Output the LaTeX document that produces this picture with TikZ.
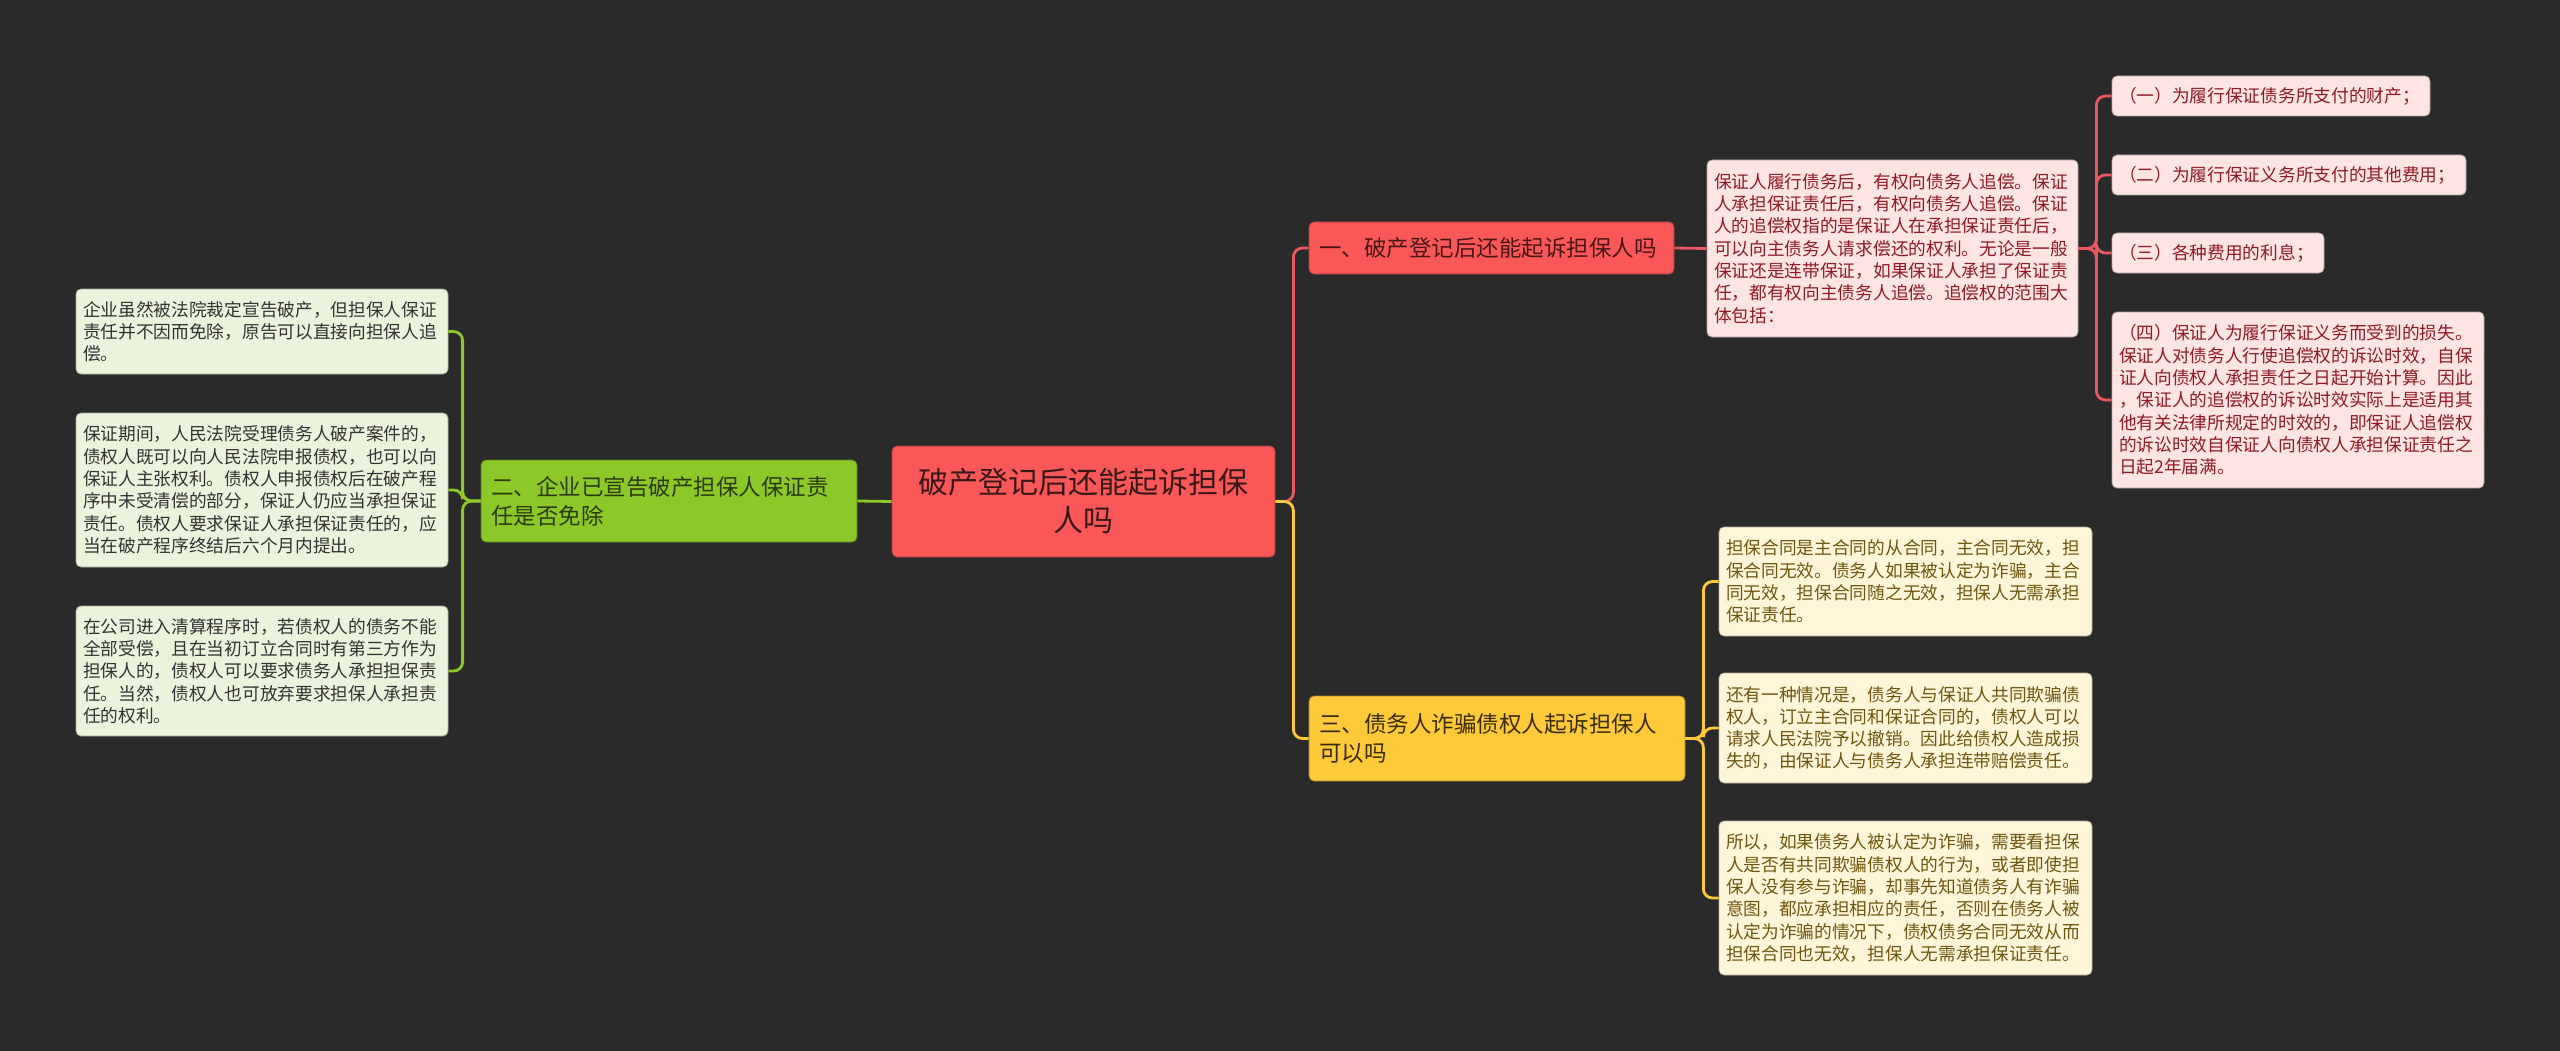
\documentclass[tikz,border=0pt]{standalone}
\usepackage{fontspec}
\setmainfont{Noto Sans CJK SC}
\usepackage{tikz}
\usetikzlibrary{positioning}
\definecolor{bgc}{HTML}{2A2A2A}
\definecolor{rootR}{HTML}{FA5858}
\definecolor{rootT}{HTML}{3A1818}
\definecolor{brRT}{HTML}{4A1515}
\definecolor{leafP}{HTML}{FFE4E4}
\definecolor{leafPT}{HTML}{8E1B24}
\definecolor{brG}{HTML}{8CC827}
\definecolor{brGT}{HTML}{2B3A0F}
\definecolor{leafG}{HTML}{EAF4DC}
\definecolor{leafGT}{HTML}{333333}
\definecolor{brY}{HTML}{FFCA3A}
\definecolor{brYT}{HTML}{3A2C00}
\definecolor{leafY}{HTML}{FFF6DA}
\definecolor{leafYT}{HTML}{6F560E}
\definecolor{lineR}{HTML}{E8585E}

\begin{document}
\begin{tikzpicture}[x=1pt, y=-1pt]
  % canvas
  \fill[bgc] (0,0) rectangle (2560,1051);
  \useasboundingbox (0,0) rectangle (2560,1051);

  \tikzstyle{box}=[rectangle, rounded corners=5pt, line width=0.8pt, inner ysep=0pt, inner xsep=7pt, align=left]
  \tikzstyle{leaf}=[box, font=\fontsize{17.7pt}{22.3pt}\selectfont]
  \tikzstyle{branch}=[box, inner xsep=10pt, font=\fontsize{22.5pt}{29pt}\selectfont]
  \tikzstyle{link}=[line width=2.8pt, rounded corners=9pt]

  % centre
  \node[box, fill=rootR, draw=rootR!70!black, text=rootT, align=center, text width=369pt, minimum height=111pt,
        font=\fontsize{30pt}{38pt}\selectfont] (root) at (1083.5,501.5) {破产登记后还能起诉担保\\人吗};

  % branches
  \node[branch, fill=rootR, draw=rootR!70!black, text=brRT, text width=345pt, minimum height=52pt] (br1) at (1491.5,248) {一、破产登记后还能起诉担保人吗};
  \node[branch, fill=brG, draw=brG!65!black, text=brGT, text width=356pt, minimum height=82pt] (br2) at (669,501) {二、企业已宣告破产担保人保证责\\任是否免除};
  \node[branch, fill=brY, draw=brY!65!black, text=brYT, text width=356pt, minimum height=85pt] (br3) at (1497,738.5) {三、债务人诈骗债权人起诉担保人\\可以吗};

  % left leaves
  \node[leaf, fill=leafG, draw=leafG!70!black, text=leafGT, text width=358pt, minimum height=85pt] (l1) at (262,331.5) {企业虽然被法院裁定宣告破产，但担保人保证\\责任并不因而免除，原告可以直接向担保人追\\偿。};
  \node[leaf, fill=leafG, draw=leafG!70!black, text=leafGT, text width=358pt, minimum height=154pt] (l2) at (262,490) {保证期间，人民法院受理债务人破产案件的，\\债权人既可以向人民法院申报债权，也可以向\\保证人主张权利。债权人申报债权后在破产程\\序中未受清偿的部分，保证人仍应当承担保证\\责任。债权人要求保证人承担保证责任的，应\\当在破产程序终结后六个月内提出。};
  \node[leaf, fill=leafG, draw=leafG!70!black, text=leafGT, text width=358pt, minimum height=130pt] (l3) at (262,671) {在公司进入清算程序时，若债权人的债务不能\\全部受偿，且在当初订立合同时有第三方作为\\担保人的，债权人可以要求债务人承担担保责\\任。当然，债权人也可放弃要求担保人承担责\\任的权利。};

  % right, red
  \node[leaf, fill=leafP, draw=leafP!70!black, text=leafPT, text width=357pt, minimum height=177pt] (r1) at (1892.5,248.5) {保证人履行债务后，有权向债务人追偿。保证\\人承担保证责任后，有权向债务人追偿。保证\\人的追偿权指的是保证人在承担保证责任后，\\可以向主债务人请求偿还的权利。无论是一般\\保证还是连带保证，如果保证人承担了保证责\\任，都有权向主债务人追偿。追偿权的范围大\\体包括：};
  \node[leaf, fill=leafP, draw=leafP!70!black, text=leafPT, text width=304pt, minimum height=40pt] (s1) at (2271,96) {（一）为履行保证债务所支付的财产；};
  \node[leaf, fill=leafP, draw=leafP!70!black, text=leafPT, text width=340pt, minimum height=40pt] (s2) at (2289,175) {（二）为履行保证义务所支付的其他费用；};
  \node[leaf, fill=leafP, draw=leafP!70!black, text=leafPT, text width=198pt, minimum height=40pt] (s3) at (2218,253) {（三）各种费用的利息；};
  \node[leaf, fill=leafP, draw=leafP!70!black, text=leafPT, text width=358pt, minimum height=176pt] (s4) at (2298,400) {（四）保证人为履行保证义务而受到的损失。\\保证人对债务人行使追偿权的诉讼时效，自保\\证人向债权人承担责任之日起开始计算。因此\\，保证人的追偿权的诉讼时效实际上是适用其\\他有关法律所规定的时效的，即保证人追偿权\\的诉讼时效自保证人向债权人承担保证责任之\\日起2年届满。};

  % right, yellow
  \node[leaf, fill=leafY, draw=leafY!70!black, text=leafYT, text width=359pt, minimum height=109pt] (y1) at (1905.5,581.5) {担保合同是主合同的从合同，主合同无效，担\\保合同无效。债务人如果被认定为诈骗，主合\\同无效，担保合同随之无效，担保人无需承担\\保证责任。};
  \node[leaf, fill=leafY, draw=leafY!70!black, text=leafYT, text width=359pt, minimum height=110pt] (y2) at (1905.5,728) {还有一种情况是，债务人与保证人共同欺骗债\\权人，订立主合同和保证合同的，债权人可以\\请求人民法院予以撤销。因此给债权人造成损\\失的，由保证人与债务人承担连带赔偿责任。};
  \node[leaf, fill=leafY, draw=leafY!70!black, text=leafYT, text width=359pt, minimum height=154pt] (y3) at (1905.5,898) {所以，如果债务人被认定为诈骗，需要看担保\\人是否有共同欺骗债权人的行为，或者即使担\\保人没有参与诈骗，却事先知道债务人有诈骗\\意图，都应承担相应的责任，否则在债务人被\\认定为诈骗的情况下，债权债务合同无效从而\\担保合同也无效，担保人无需承担保证责任。};

  % connectors
  \draw[link, brG] (root.west) -- (br2.east);
  \foreach \n in {l1,l2,l3}
    \draw[link, brG] (br2.west) -- ++(-18,0) |- (\n.east);
  \draw[link, lineR] (root.east) -- ++(18,0) |- (br1.west);
  \draw[link, brY] (root.east) -- ++(18,0) |- (br3.west);
  \draw[link, lineR] (br1.east) -- (r1.west);
  \foreach \n in {s1,s2,s3,s4}
    \draw[link, lineR] (r1.east) -- ++(18,0) |- (\n.west);
  \foreach \n in {y1,y2,y3}
    \draw[link, brY] (br3.east) -- ++(18,0) |- (\n.west);
\end{tikzpicture}
\end{document}
